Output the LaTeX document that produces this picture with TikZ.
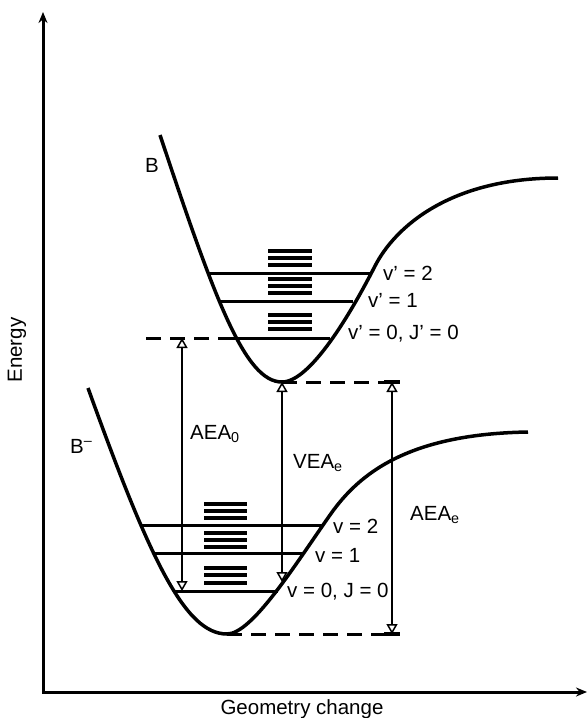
\documentclass[tikz,border=0pt]{standalone}
\usepackage{fontspec}
\setmainfont{Liberation Sans}
\usetikzlibrary{arrows.meta}

\begin{document}
\begin{tikzpicture}[>=Stealth, x=1pt, y=-1pt,
    font=\fontsize{20.5}{24}\selectfont,
    axis/.style={line width=3pt, {Stealth[length=11pt, width=9pt]}-{Stealth[length=11pt, width=9pt]}},
    curve/.style={line width=3.5pt},
    level/.style={line width=3pt},
    rot/.style={line width=3.5pt},
    gap/.style={line width=3pt, dash pattern=on 15pt off 9pt},
    tick/.style={line width=3.5pt},
    dbl/.style={line width=2.5pt,
      {Triangle[open, length=10pt, width=11pt, line width=1.5pt]}-{Triangle[open, length=10pt, width=11pt, line width=1.5pt]}},
    lbl/.style={inner sep=0pt, anchor=base west}]
  \useasboundingbox (0,0) rectangle (588,718);

  % Axes
  \coordinate (ytip) at (43,12);
  \coordinate (O) at (43,692);
  \coordinate (xtip) at (587,692);
  \draw[axis] (ytip) -- (O) -- (xtip);
  \node[rotate=90] (energy) at (17,350) {Energy};
  \node[anchor=base] (geom) at (302,714) {Geometry change};

  % Neutral state B
  \coordinate (Bmin) at (282,382);
  \draw[curve] (160,135) .. controls (215,300) and (245,382) .. (Bmin)
    .. controls (310,382) and (350,315) .. (375,266)
    .. controls (395,227) and (450,178) .. (558,178);
  \draw[level] (207,273) -- (370,273);
  \draw[level] (220,301) -- (353,301);
  \draw[level] (233,338) -- (330,338);
  \draw[gap] (233,338) -- (145,338);
  \foreach \y in {251,258,265,279,286,293,315,322,329}
    \draw[rot] (268,\y) -- (312,\y);

  % Anion B-
  \coordinate (Bmmin) at (227,634);
  \draw[curve] (88,388) .. controls (150,560) and (185,634) .. (Bmmin)
    .. controls (252,634) and (295,565) .. (330,515)
    .. controls (360,472) and (410,434) .. (528,432);
  \draw[level] (140,525) -- (322,525);
  \draw[level] (155,553) -- (302,553);
  \draw[level] (173,591) -- (278,591);
  \foreach \y in {504,511,518,533,540,547,568,575,583}
    \draw[rot] (204,\y) -- (247,\y);

  % Electron affinities
  \coordinate (a0top) at (182,338);
  \coordinate (a0bot) at (182,591);
  \coordinate (vbot) at (282,582);
  \coordinate (etop) at (392,382);
  \coordinate (ebot) at (392,634);
  \draw[gap] (Bmin) -- (etop);
  \draw[gap] (Bmmin) -- (ebot);
  \draw[tick] (384,382) -- (400,382);
  \draw[tick] (384,634) -- (400,634);
  \draw[dbl] (a0top) -- (a0bot);
  \draw[dbl] (Bmin) -- (vbot);
  \draw[dbl] (etop) -- (ebot);

  % Labels
  \node[lbl] (lB) at (145,172) {B};
  \node[lbl] (lBm) at (70,453) {B\textsuperscript{–}};
  \node[lbl] (laea0) at (190,439) {AEA\textsubscript{0}};
  \node[lbl] (lvea) at (293,468) {VEA\textsubscript{e}};
  \node[lbl] (laeae) at (410,520) {AEA\textsubscript{e}};
  \node[lbl] (lu2) at (383,280) {v' = 2};
  \node[lbl] (lu1) at (368,307) {v' = 1};
  \node[lbl] (lu0) at (348,339) {v' = 0, J' = 0};
  \node[lbl] (ll2) at (333,533) {v = 2};
  \node[lbl] (ll1) at (315,562) {v = 1};
  \node[lbl] (ll0) at (287,597) {v = 0, J = 0};
\end{tikzpicture}
\end{document}
